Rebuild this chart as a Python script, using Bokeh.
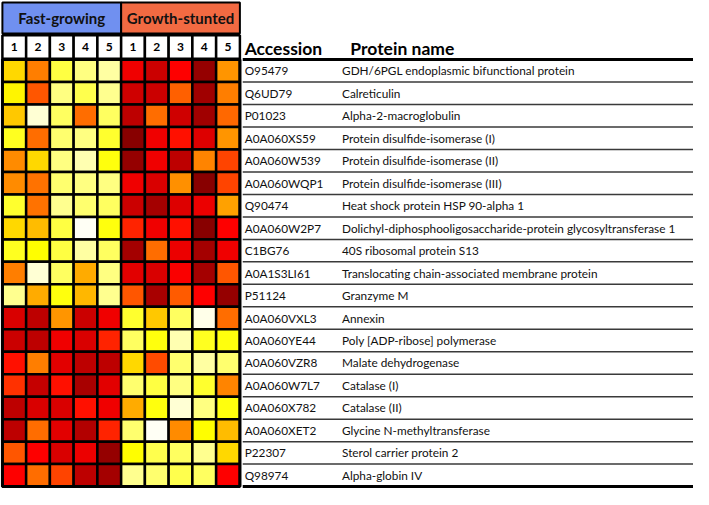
import numpy as np
from bokeh.plotting import figure
from bokeh.models import Range1d, ColumnDataSource, LinearColorMapper
from bokeh.transform import transform
from bokeh.core.properties import value
from bokeh.embed import file_html
from bokeh.resources import INLINE

groups = ["Fast-growing", "Growth-stunted"]
group_colors = ["#7090F0", "#F26A42"]
replicates = ["1", "2", "3", "4", "5"]

accessions = ["O95479", "Q6UD79", "P01023", "A0A060XS59", "A0A060W539", "A0A060WQP1",
              "Q90474", "A0A060W2P7", "C1BG76", "A0A1S3LI61", "P51124", "A0A060VXL3",
              "A0A060YE44", "A0A060VZR8", "A0A060W7L7", "A0A060X782", "A0A060XET2",
              "P22307", "Q98974"]
protein_names = ["GDH/6PGL endoplasmic bifunctional protein", "Calreticulin",
                 "Alpha-2-macroglobulin", "Protein disulfide-isomerase (I)",
                 "Protein disulfide-isomerase (II)", "Protein disulfide-isomerase (III)",
                 "Heat shock protein HSP 90-alpha 1",
                 "Dolichyl-diphosphooligosaccharide-protein glycosyltransferase 1",
                 "40S ribosomal protein S13", "Translocating chain-associated membrane protein",
                 "Granzyme M", "Annexin", "Poly [ADP-ribose] polymerase", "Malate dehydrogenase",
                 "Catalase (I)", "Catalase (II)", "Glycine N-methyltransferase",
                 "Sterol carrier protein 2", "Alpha-globin IV"]

# relative abundance level (0 = lowest / white, 11 = highest / dark red)
fast_growing = [
    [4.7, 6.3, 3.0, 2.0, 1.3],
    [4.2, 7.0, 2.0, 2.8, 1.7],
    [5.0, 0.5, 2.5, 6.6, 2.5],
    [3.5, 6.6, 2.3, 2.0, 3.3],
    [6.1, 4.7, 2.0, 1.0, 3.8],
    [6.1, 6.5, 2.3, 2.0, 2.0],
    [3.3, 6.5, 1.7, 2.3, 2.5],
    [4.7, 5.2, 3.0, 0.0, 3.8],
    [3.5, 4.0, 3.0, 1.3, 2.5],
    [6.3, 0.5, 2.5, 5.5, 2.0],
    [1.7, 5.5, 3.8, 5.3, 1.7],
    [8.8, 9.4, 5.9, 9.1, 8.3],
    [9.1, 9.4, 8.3, 8.8, 7.6],
    [7.8, 6.3, 8.6, 9.4, 9.4],
    [7.4, 9.2, 7.8, 9.8, 8.6],
    [9.4, 8.8, 8.8, 7.8, 8.3],
    [9.4, 6.6, 8.6, 9.6, 7.6],
    [7.0, 8.0, 8.8, 8.4, 10.4],
    [8.0, 6.6, 7.2, 9.4, 9.9],
]
growth_stunted = [
    [8.3, 9.1, 8.0, 10.4, 5.9],
    [9.0, 9.1, 6.8, 10.0, 6.3],
    [9.4, 6.6, 9.0, 10.0, 6.7],
    [11.0, 8.3, 7.8, 8.7, 5.9],
    [10.4, 8.3, 9.4, 6.2, 7.2],
    [8.3, 8.8, 6.0, 11.0, 7.2],
    [9.1, 9.9, 8.7, 8.4, 5.7],
    [7.6, 8.3, 7.8, 11.0, 8.0],
    [9.9, 6.6, 8.4, 9.9, 8.3],
    [8.6, 8.8, 8.1, 9.9, 7.0],
    [7.0, 9.8, 6.9, 8.0, 10.4],
    [3.3, 5.0, 2.5, 0.2, 6.6],
    [2.5, 3.8, 1.0, 3.5, 3.8],
    [4.7, 7.1, 2.3, 1.3, 2.3],
    [2.3, 3.0, 2.0, 3.3, 6.2],
    [5.5, 3.8, 0.5, 2.0, 3.8],
    [2.3, 0.0, 6.1, 4.0, 5.2],
    [4.0, 2.8, 2.5, 1.7, 4.7],
    [1.7, 2.3, 2.8, 2.5, 8.0],
]

# colour scale anchors (white -> yellow -> orange -> red -> dark red)
anchor_colors = ["#FFFFF5", "#FFFFB0", "#FFFF80", "#FFFF40", "#FFFF00", "#FFC800",
                 "#FF9000", "#FF5500", "#FF0000", "#D00000", "#A00000", "#880000"]


def hex2rgb(h):
    return np.array([int(h[i:i + 2], 16) for i in (1, 3, 5)], dtype=float)


anc = np.array([hex2rgb(c) for c in anchor_colors])
pos = np.linspace(0, 1, len(anc))
palette = []
for t in np.linspace(0, 1, 256):
    rgb = [np.interp(t, pos, anc[:, k]) for k in range(3)]
    palette.append("#%02x%02x%02x" % tuple(int(round(v)) for v in rgb))
mapper = LinearColorMapper(palette=palette, low=0, high=len(anchor_colors) - 1)

n_rows = len(accessions)
n_rep = len(replicates)
n_cols = n_rep * len(groups)

xs, ys, vs = [], [], []
for gi, mat in enumerate([fast_growing, growth_stunted]):
    for i, row in enumerate(mat):
        for j, v in enumerate(row):
            xs.append(gi * n_rep + j + 0.5)
            ys.append(i + 0.5)
            vs.append(v)
src = ColumnDataSource(dict(x=xs, y=ys, v=vs))

# layout (in cell units)
X_END = 29.1
Y_TOP = -2.63
Y_BOT = n_rows + 0.13
TABLE_X0 = n_cols + 0.12
ACC_X = n_cols + 0.2
NAME_X = n_cols + 4.3
NAME_HDR_X = n_cols + 4.65

p = figure(width=693, height=489, output_backend="svg", toolbar_location=None,
           x_range=Range1d(-0.08, X_END), y_range=Range1d(Y_BOT, Y_TOP),
           min_border=0)
p.axis.visible = False
p.grid.visible = False
p.outline_line_color = None
p.background_fill_color = "white"

# heatmap cells
p.rect(x="x", y="y", width=1, height=1, source=src,
       fill_color=transform("v", mapper), line_color="black", line_width=2.5)
p.rect(x=n_cols / 2, y=n_rows / 2, width=n_cols, height=n_rows,
       fill_color=None, line_color="black", line_width=3)

# group header boxes
gx = [gi * n_rep + n_rep / 2 for gi in range(len(groups))]
p.rect(x=gx, y=[-1.85] * len(groups), width=n_rep, height=1.38,
       fill_color=group_colors, line_color="black", line_width=2)
p.text(x=gx, y=[-1.85] * len(groups), text=groups, text_align="center",
       text_baseline="middle", text_font=value("Lato"), text_font_style="bold",
       text_font_size="15px", text_color="#111111")

# replicate number boxes
rx = [k + 0.5 for k in range(n_cols)]
rlab = replicates * len(groups)
p.rect(x=rx, y=[-0.56] * n_cols, width=1, height=1.04,
       fill_color="white", line_color="black", line_width=2.5)
p.text(x=rx, y=[-0.56] * n_cols, text=rlab, text_align="center",
       text_baseline="middle", text_font=value("Lato"), text_font_style="bold",
       text_font_size="12px", text_color="black")

# table headers
p.text(x=[ACC_X, NAME_HDR_X], y=[-0.5, -0.5], text=["Accession", "Protein name"],
       text_align="left", text_baseline="alphabetic", text_font=value("Lato"),
       text_font_style="bold", text_font_size="17.5px", text_color="black")

# table rows
ry = [i + 0.5 for i in range(n_rows)]
p.text(x=[ACC_X] * n_rows, y=ry, text=accessions, text_align="left",
       text_baseline="middle", text_font=value("Lato"), text_font_size="11.8px",
       text_color="#111111")
p.text(x=[NAME_X] * n_rows, y=ry, text=protein_names, text_align="left",
       text_baseline="middle", text_font=value("Lato"), text_font_size="11.8px",
       text_color="#111111")

# separators
inner = list(range(1, n_rows))
p.segment(x0=[TABLE_X0] * len(inner), y0=inner, x1=[X_END] * len(inner), y1=inner,
          line_color="#3a3a3a", line_width=1.5)
p.segment(x0=[TABLE_X0, TABLE_X0], y0=[0, n_rows], x1=[X_END, X_END], y1=[0, n_rows],
          line_color="black", line_width=3)

open("out.html", "w").write(file_html(p, INLINE))
